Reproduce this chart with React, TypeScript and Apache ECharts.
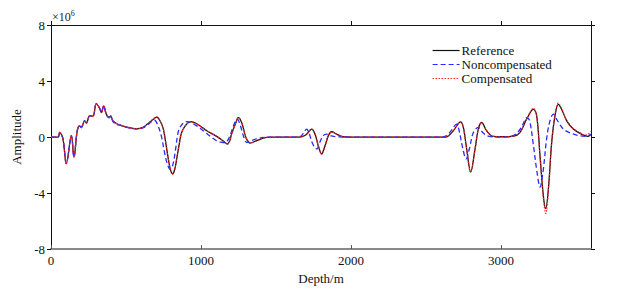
import React, { useEffect, useRef } from "react";
import * as echarts from "echarts";

// Depth (m) and amplitude (×10^6)
const refDepth = [0, 47, 58, 80, 102, 136, 153, 175, 191, 202, 224, 236, 258, 280, 302, 324, 336, 351, 369, 387, 398, 413, 436, 458, 513, 569, 613, 647, 680, 704, 725, 749, 765, 782, 798, 811, 825, 838, 855, 871, 904, 931, 971, 1038, 1104, 1150, 1176, 1190, 1204, 1233, 1249, 1271, 1290, 1304, 1327, 1371, 1438, 1500, 1650, 1680, 1704, 1738, 1760, 1782, 1804, 1827, 1849, 1871, 1904, 1949, 2000, 2600, 2638, 2682, 2731, 2749, 2771, 2798, 2827, 2849, 2871, 2904, 2949, 3038, 3116, 3171, 3216, 3238, 3260, 3282, 3298, 3316, 3338, 3360, 3382, 3404, 3438, 3482, 3527, 3560, 3580, 3600];
const refAmp = [0, 0, 0.33, -0.14, -1.9, 0.1, -1.44, 0.45, 0.8, 0.68, 1.16, 1.0, 1.51, 1.5, 2.39, 2.06, 1.75, 2.22, 1.63, 1.39, 1.51, 1.16, 0.97, 0.87, 0.69, 0.59, 0.69, 0.97, 1.25, 1.42, 1.2, 0.57, -0.4, -1.56, -2.4, -2.62, -2.3, -1.56, -0.5, 0.33, 0.92, 1.1, 0.95, 0.45, 0.05, -0.3, -0.5, -0.3, 0.21, 1.04, 1.38, 1.04, 0.3, -0.14, -0.43, -0.26, -0.02, 0, 0, 0.05, 0.2, 0.57, 0.21, -0.62, -1.2, -0.62, 0.1, 0.38, 0.21, 0.02, 0, 0, 0.02, 0.45, 1.09, 0.69, -0.85, -2.5, -0.85, 0.57, 1.04, 0.45, 0.05, 0.02, 0.21, 1.28, 1.99, 1.51, -1.33, -4.16, -5.1, -3.69, -0.38, 1.51, 2.34, 1.99, 1.16, 0.57, 0.26, 0.1, 0.05, 0.2];

const nonDepth = [0, 47, 58, 80, 102, 136, 153, 175, 191, 202, 224, 236, 258, 280, 302, 324, 336, 351, 369, 387, 398, 413, 436, 458, 513, 569, 613, 647, 670, 690, 710, 735, 755, 775, 795, 812, 830, 849, 870, 900, 930, 971, 1038, 1104, 1140, 1160, 1185, 1210, 1230, 1242, 1260, 1285, 1300, 1316, 1350, 1420, 1500, 1640, 1670, 1690, 1704, 1720, 1745, 1771, 1795, 1815, 1838, 1870, 1920, 2000, 2600, 2640, 2670, 2704, 2720, 2745, 2767, 2790, 2815, 2849, 2880, 2920, 3000, 3080, 3120, 3150, 3171, 3190, 3215, 3240, 3260, 3280, 3304, 3325, 3349, 3375, 3416, 3460, 3504, 3560, 3600];
const nonAmp = [0, 0, 0.33, -0.14, -1.9, 0.1, -1.44, 0.45, 0.8, 0.68, 1.16, 1.0, 1.51, 1.5, 2.39, 2.06, 1.75, 2.22, 1.63, 1.39, 1.45, 1.1, 0.92, 0.85, 0.67, 0.59, 0.65, 0.9, 1.1, 1.2, 0.9, 0.1, -1.0, -1.9, -2.3, -2.0, -0.9, 0.4, 0.85, 1.1, 1.05, 0.8, 0.25, -0.26, -0.38, -0.4, -0.1, 0.6, 1.15, 1.28, 0.9, 0.0, -0.35, -0.38, -0.2, -0.02, 0, 0, 0.1, 0.4, 0.57, 0.3, -0.5, -0.85, -0.3, 0.1, 0.21, 0.08, 0.01, 0, 0, 0.1, 0.5, 0.92, 0.5, -0.8, -1.56, -0.8, 0.3, 0.69, 0.3, 0.05, 0, 0.1, 0.45, 1.0, 1.39, 1.2, -0.5, -2.5, -3.57, -2.5, -0.14, 1.1, 1.63, 1.2, 0.57, 0.3, 0.14, 0.05, 0.2];

const compDepth = [0, 47, 58, 80, 102, 136, 153, 175, 191, 202, 224, 236, 258, 280, 302, 324, 336, 351, 369, 387, 398, 413, 436, 458, 513, 569, 613, 647, 680, 704, 725, 749, 765, 782, 798, 811, 825, 838, 855, 871, 904, 931, 971, 1038, 1104, 1150, 1176, 1190, 1204, 1233, 1249, 1271, 1290, 1304, 1327, 1371, 1438, 1500, 1650, 1680, 1704, 1738, 1760, 1782, 1804, 1827, 1849, 1871, 1904, 1949, 2000, 2600, 2638, 2682, 2731, 2749, 2771, 2798, 2827, 2849, 2871, 2904, 2949, 3038, 3116, 3171, 3216, 3238, 3260, 3282, 3298, 3316, 3338, 3360, 3382, 3404, 3438, 3482, 3527, 3560, 3580, 3600];
const compAmp = [0, 0, 0.33, -0.14, -1.9, 0.1, -1.44, 0.45, 0.8, 0.68, 1.16, 1.0, 1.51, 1.5, 2.39, 2.06, 1.75, 2.22, 1.63, 1.39, 1.51, 1.16, 0.97, 0.87, 0.69, 0.59, 0.69, 0.97, 1.27, 1.45, 1.2, 0.57, -0.4, -1.56, -2.4, -2.65, -2.3, -1.56, -0.5, 0.33, 0.92, 1.1, 0.95, 0.45, 0.05, -0.3, -0.5, -0.3, 0.21, 1.04, 1.4, 1.04, 0.3, -0.14, -0.43, -0.26, -0.02, 0, 0, 0.05, 0.2, 0.57, 0.21, -0.62, -1.22, -0.62, 0.1, 0.38, 0.21, 0.02, 0, 0, 0.02, 0.45, 1.1, 0.69, -0.85, -2.52, -0.85, 0.57, 1.04, 0.45, 0.05, 0.02, 0.21, 1.3, 2.05, 1.51, -1.33, -4.3, -5.46, -3.8, -0.38, 1.6, 2.42, 2.05, 1.2, 0.6, 0.3, 0.15, 0.2, 0.4];

const xTicks = [0, 1000, 2000, 3000];
const yTicks = [-8, -4, 0, 4, 8];

const seriesNames = ["Reference", "Noncompensated", "Compensated"];

const FONT = "'Liberation Serif', 'Times New Roman', 'DejaVu Serif', serif";

function pairs(xs: number[], ys: number[]) {
  return xs.map((x, i) => [x, ys[i]]);
}

export default function App() {
  const ref = useRef<HTMLDivElement>(null);
  useEffect(() => {
    if (!ref.current) return;
    const chart = echarts.init(ref.current, undefined, { renderer: "svg" });
    const common = { type: "value" as const, min: xTicks[0], max: 3600, interval: 1000 };
    chart.setOption({
      animation: false,
      backgroundColor: "#ffffff",
      textStyle: { fontFamily: FONT },
      grid: { left: 51, right: 35, top: 25, bottom: 39, containLabel: false },
      legend: {
        data: seriesNames,
        orient: "vertical",
        left: 427,
        top: 39,
        itemWidth: 27,
        itemHeight: 10,
        itemGap: 1,
        itemStyle: { opacity: 0, borderWidth: 0 },
        lineStyle: { width: 1.2 },
        textStyle: { fontFamily: FONT, fontSize: 13, color: "#111", lineHeight: 11, padding: [0, 0, 0, -3] },
        selectedMode: false,
      },
      graphic: [
        {
          type: "text",
          left: 52,
          top: 9,
          style: {
            text: "{a|×10}{b|6}",
            rich: {
              a: { fontFamily: FONT, fontSize: 12, fill: "#222", verticalAlign: "bottom" },
              b: { fontFamily: FONT, fontSize: 8, fill: "#222", verticalAlign: "top", padding: [0, 0, 6, 0] },
            },
          },
        },
      ],
      xAxis: [
        {
          ...common,
          position: "bottom",
          name: "Depth/m",
          nameLocation: "middle",
          nameGap: 20,
          nameTextStyle: { fontFamily: FONT, fontSize: 13, color: "#111" },
          axisLine: { show: true, onZero: false, lineStyle: { color: "#8a8a8a", width: 2 } },
          axisTick: { show: true, inside: true, length: 4, lineStyle: { color: "#555" } },
          axisLabel: {
            showMaxLabel: false,
            fontFamily: FONT,
            fontSize: 13,
            color: "#111",
            margin: 5,
            formatter: (v: number) => String(v),
          },
          splitLine: { show: false },
        },
        {
          ...common,
          position: "top",
          axisLine: { show: true, onZero: false, lineStyle: { color: "#111", width: 1 } },
          axisTick: { show: true, inside: false, length: 4, lineStyle: { color: "#111" } },
          axisLabel: { show: false },
          splitLine: { show: false },
        },
      ],
      yAxis: [
        {
          type: "value",
          min: yTicks[0],
          max: yTicks[yTicks.length - 1],
          interval: 4,
          position: "left",
          name: "Amplitude",
          nameLocation: "middle",
          nameGap: 23,
          nameTextStyle: { fontFamily: FONT, fontSize: 13, color: "#111" },
          axisLine: { show: true, onZero: false, lineStyle: { color: "#111", width: 1 } },
          axisTick: { show: true, inside: false, length: 4, lineStyle: { color: "#111" } },
          axisLabel: { fontFamily: FONT, fontSize: 13, color: "#111", margin: 6 },
          splitLine: { show: false },
        },
        {
          type: "value",
          min: yTicks[0],
          max: yTicks[yTicks.length - 1],
          interval: 4,
          position: "right",
          axisLine: { show: true, onZero: false, lineStyle: { color: "#111", width: 1 } },
          axisTick: { show: true, inside: false, length: 4, lineStyle: { color: "#111" } },
          axisLabel: { show: false },
          splitLine: { show: false },
        },
      ],
      series: [
        {
          name: seriesNames[0],
          type: "line",
          data: pairs(refDepth, refAmp),
          showSymbol: false,
          symbol: "none",
          smooth: 0.35,
          lineStyle: { color: "#111111", width: 1.3, type: "solid" },
          itemStyle: { color: "#111111" },
        },
        {
          name: seriesNames[1],
          type: "line",
          data: pairs(nonDepth, nonAmp),
          showSymbol: false,
          symbol: "none",
          smooth: 0.35,
          lineStyle: { color: "#2a2aff", width: 1.3, type: [5, 3] },
          itemStyle: { color: "#2a2aff" },
        },
        {
          name: seriesNames[2],
          type: "line",
          data: pairs(compDepth, compAmp),
          showSymbol: false,
          symbol: "none",
          smooth: 0.35,
          lineStyle: { color: "#ff2020", width: 1.2, type: [1.5, 1.5] },
          itemStyle: { color: "#ff2020" },
        },
      ],
    });
    return () => chart.dispose();
  }, []);
  return (
    <div
      ref={ref}
      style={{ position: "fixed", left: 0, top: 0, width: 626, height: 290, background: "#fff" }}
    />
  );
}
